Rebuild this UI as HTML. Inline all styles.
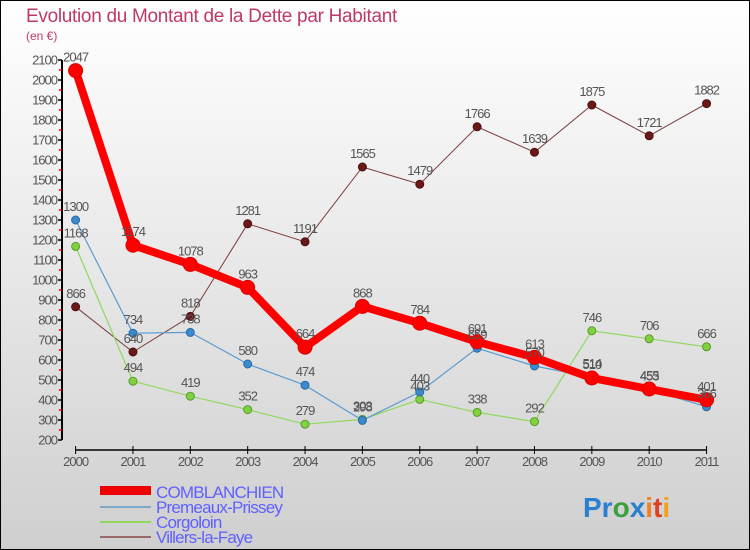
<!DOCTYPE html>
<html><head><meta charset="utf-8"><style>
html,body{margin:0;padding:0}
body{width:750px;height:550px;overflow:hidden;font-family:"Liberation Sans",sans-serif}
#wrap{position:absolute;left:0;top:0;width:748px;height:548px;border:1px solid #000;background:linear-gradient(#ffffff,#cfcfcf)}
svg{position:absolute;left:0;top:0}
</style></head><body>
<div id="wrap"></div>
<svg id="chart" width="750" height="550">
<text x="26" y="22" font-size="19" fill="#c0386a" letter-spacing="-0.3">Evolution du Montant de la Dette par Habitant</text>
<text x="26" y="40" font-size="12" fill="#c0386a">(en €)</text>
<g id="axes"></g><g id="series"></g><g id="labels"></g>
<g letter-spacing="-0.8">
<rect x="100" y="486" width="51" height="9" fill="#e00"/>
<text x="156" y="498" font-size="17" fill="#6060ff">COMBLANCHIEN</text>
<rect x="100" y="506" width="51" height="2" fill="#7fa7c8"/>
<text x="156" y="513" font-size="17" fill="#6060ff">Premeaux-Prissey</text>
<rect x="100" y="521" width="51" height="2" fill="#90d860"/>
<text x="156" y="528" font-size="17" fill="#6060ff">Corgoloin</text>
<rect x="100" y="536" width="51" height="2" fill="#9a6a6a"/>
<text x="156" y="543" font-size="17" fill="#6060ff">Villers-la-Faye</text>
</g>
<g font-size="28" font-weight="bold">
<text x="583" y="517"><tspan fill="#2a7fd0">Pr</tspan><tspan fill="#3aa040">o</tspan><tspan fill="#2a7fd0">x</tspan><tspan fill="#f08020">i</tspan><tspan fill="#e04020">t</tspan><tspan fill="#f0a020">i</tspan></text>
</g>
</svg>
<script>
const years=["2000","2001","2002","2003","2004","2005","2006","2007","2008","2009","2010","2011"];
const comblanchien=[2047,1174,1078,963,664,868,784,691,613,510,455,401];
const premeaux=[1300,734,738,580,474,298,440,659,570,514,453,366];
const corgoloin=[1168,494,419,352,279,303,403,338,292,746,706,666];
const villers=[866,640,818,1281,1191,1565,1479,1766,1639,1875,1721,1882];
const yTicks=[200,300,400,500,600,700,800,900,1000,1100,1200,1300,1400,1500,1600,1700,1800,1900,2000,2100];
const NS="http://www.w3.org/2000/svg";
const X=i=>75.6+i*57.36;
const Y=v=>440-(v-200)*0.2;
function mk(tag,attrs,parent,text){const e=document.createElementNS(NS,tag);for(const k in attrs)e.setAttribute(k,attrs[k]);if(text!==undefined)e.textContent=text;parent.appendChild(e);return e;}
const axes=document.getElementById('axes');
let a=mk('line',{x1:62,y1:Y(2100),x2:62,y2:Y(200),stroke:'#000','stroke-width':2},axes);


yTicks.forEach(v=>{
  let t=mk('line',{x1:58,x2:62,y1:Y(v),y2:Y(v),stroke:'#000','stroke-width':1.5},axes);
  
  
  let l=mk('text',{x:57,y:Y(v)+4.5,'text-anchor':'end','font-size':13,fill:'#555','letter-spacing':'-1'},axes,String(v));
  
  
  if(v<2100){let m=mk('line',{x1:59,x2:62,y1:Y(v+50),y2:Y(v+50),stroke:'#e00','stroke-width':1.5},axes);
  
  }
});
let xa=mk('line',{x1:X(0),x2:X(11),y1:450,y2:450,stroke:'#000','stroke-width':1.5},axes);


years.forEach((y,i)=>{
  let t=mk('line',{x1:X(i),x2:X(i),y1:446,y2:454,stroke:'#000','stroke-width':1},axes);
  
  
  let l=mk('text',{x:X(i),y:466,'text-anchor':'middle','font-size':13,fill:'#555','letter-spacing':'-1'},axes,y);
  
  
});
const ser=document.getElementById('series'),lab=document.getElementById('labels');
function draw(vals,name,color,lw,r,dot,stroke){
  const g=mk('g',{},ser);
  
  
  let p=mk('polyline',{points:vals.map((v,i)=>X(i)+','+Y(v)).join(' '),fill:'none',stroke:color,'stroke-width':lw,'stroke-linejoin':'round'},g);
  
  
  vals.forEach((v,i)=>{
    let c=mk('circle',{cx:X(i),cy:Y(v),r:r,fill:dot,stroke:stroke,'stroke-width':1},g);
    
    
    let t=mk('text',{x:X(i),y:Y(v)-9,'text-anchor':'middle','font-size':13,fill:'#555','letter-spacing':'-1'},lab,String(v));
    
    
  });
}
draw(villers,'villers','#7a3a3a',1,4,'#6a1818','#4a1010');
draw(corgoloin,'corgoloin','#90d860',1.2,4,'#80d040','#5a9a30');
draw(premeaux,'premeaux','#5a9ad0',1.2,4,'#3a8ad0','#2a6aa0');
draw(comblanchien,'comblanchien','#f00',8,7,'#f00','#d00');
</script>
</body></html>
